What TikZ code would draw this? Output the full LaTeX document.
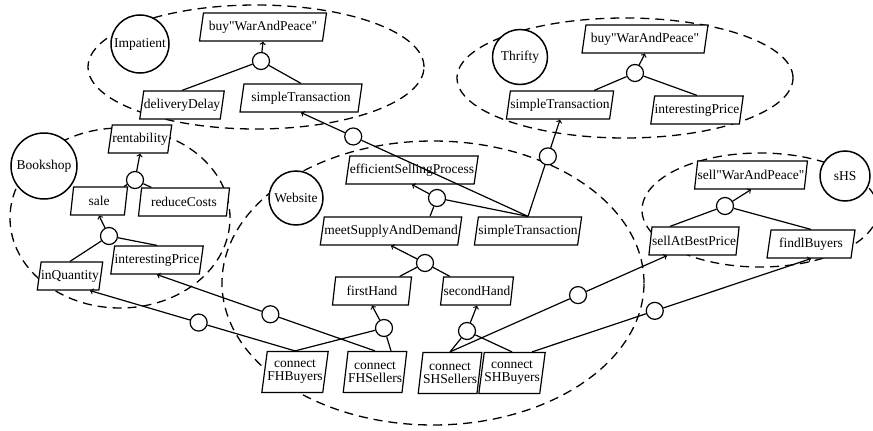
\documentclass[tikz,border=0pt]{standalone}
\usepackage{fontspec}
\setmainfont{Liberation Serif}[Ligatures=TeXOff]
\usetikzlibrary{shapes.geometric}

\begin{document}
\begin{tikzpicture}[x=1pt,y=-1pt,line width=1.2pt,font=\fontsize{13.5}{13}\selectfont,
  actor/.style={draw,circle,fill=white,line width=1.5pt,inner sep=0pt},
  goal/.style={draw,trapezium,trapezium left angle=72,trapezium right angle=108,trapezium stretches body,fill=white,inner xsep=0pt,inner ysep=0pt,minimum height=28pt},
  task/.style={goal,trapezium left angle=77,trapezium right angle=103,minimum height=41pt,align=center},
  dec/.style={draw,circle,fill=white,minimum size=17pt,inner sep=0pt},
  bound/.style={dash pattern=on 9pt off 6pt,line width=1.3pt}]
\useasboundingbox (0,0) rectangle (873,431);

\draw[bound] (256,67) ellipse [x radius=168pt, y radius=62pt];
\draw[bound] (625,78) ellipse [x radius=168pt, y radius=60pt];
\draw[bound] (120,218) ellipse [x radius=110pt, y radius=90pt];
\draw[bound] (433,283) ellipse [x radius=211pt, y radius=142pt];
\draw[bound] (760,210) ellipse [x radius=118pt, y radius=57pt];

\node[actor,minimum size=58pt] (impatient) at (140,44) {Impatient};
\node[actor,minimum size=55pt] (thrifty) at (520,57) {Thrifty};
\node[actor,minimum size=66pt] (bookshop) at (44,166) {Bookshop};
\node[actor,minimum size=54pt] (website) at (296,198) {Website};
\node[actor,minimum size=50pt] (shs) at (845,176) {sHS};

\node[goal,minimum width=127pt] (impBuy) at (263,27) {buy"WarAndPeace"};
\node[goal] (impDelay) at (182,105) {deliveryDelay};
\node[goal,minimum width=122pt] (impTrans) at (301,98) {simpleTransaction};
\node[dec] (impDec) at (261,61) {};

\node[goal,minimum width=126pt] (thrBuy) at (645,39) {buy"WarAndPeace"};
\node[goal] (thrTrans) at (560,105) {simpleTransaction};
\node[goal] (thrPrice) at (697,110) {interestingPrice};
\node[dec] (thrDec) at (635,73) {};

\node[goal] (bsRent) at (140,139) {rentability};
\node[goal,minimum width=57pt] (bsSale) at (99,201) {sale};
\node[goal,minimum width=91pt] (bsCosts) at (184,202) {reduceCosts};
\node[goal] (bsQuant) at (70,276) {inQuantity};
\node[goal] (bsPrice) at (157,260) {interestingPrice};
\node[dec] (bsDecA) at (135,180) {};
\node[dec] (bsDecB) at (109,236) {};

\node[goal] (wsEff) at (412,170) {efficientSellingProcess};
\node[goal] (wsMeet) at (391,231) {meetSupplyAndDemand};
\node[goal] (wsTrans) at (528,231) {simpleTransaction};
\node[goal,minimum width=79pt] (wsFirst) at (372,291) {firstHand};
\node[goal] (wsSecond) at (477,291) {secondHand};
\node[task] (wsFHB) at (295,372) {connect\\FHBuyers};
\node[task] (wsFHS) at (375,372) {connect\\FHSellers};
\node[task] (wsSHS) at (450,373) {connect\\SHSellers};
\node[task] (wsSHB) at (512,373) {connect\\SHBuyers};
\node[dec] (wsDecA) at (437,198) {};
\node[dec] (wsDecB) at (425,263) {};
\node[dec] (wsDecFH) at (384,328) {};
\node[dec] (wsDecSH) at (467,331) {};

\node[goal] (shsSell) at (751,175) {sell"WarAndPeace"};
\node[goal] (shsBest) at (694,241) {sellAtBestPrice};
\node[goal,minimum width=88pt] (shsFind) at (811,244) {findlBuyers};
\node[dec] (shsDec) at (725,206) {};

\draw (impDec) -- (impDelay.north);
\draw (impDec) -- (impTrans.north);
\draw[->] (impDec) -- (impBuy.south);
\draw (thrDec) -- (thrTrans);
\draw (thrDec) -- (thrPrice.north);
\draw[->] (thrDec) -- (thrBuy.south);
\draw (bsDecA) -- (bsSale);
\draw (bsDecA) -- (bsCosts);
\draw[->] (bsDecA) -- (bsRent.south);
\draw (bsDecB) -- (bsQuant.north);
\draw (bsDecB) -- (bsPrice.north);
\draw[->] (bsDecB) -- (bsSale.south);
\draw (wsDecA) -- ([xshift=39pt]wsMeet.north);
\draw (wsDecA) -- (wsTrans.north);
\draw[->] (wsDecA) -- (wsEff.south);
\draw (wsDecB) -- (wsFirst);
\draw (wsDecB) -- (wsSecond);
\draw[->] (wsDecB) -- (wsMeet.south);
\draw (wsDecFH) -- (wsFHB.north);
\draw (wsDecFH) -- ([xshift=16pt]wsFHS.north);
\draw[->] (wsDecFH) -- (wsFirst.south);
\draw (wsDecSH) -- (wsSHS.north);
\draw (wsDecSH) -- (wsSHB.north);
\draw[->] (wsDecSH) -- (wsSecond.south);
\draw (shsDec) -- ([xshift=-24pt]shsBest.north);
\draw (shsDec) -- (shsFind.north);
\draw[->] (shsDec) -- (shsSell.south);

\path (wsTrans.north) -- node[dec,pos=0.77] (depA) {} (impTrans.south);
\draw (wsTrans.north) -- (depA);
\draw[->] (depA) -- (impTrans.south);
\path (wsTrans.north) -- node[dec,pos=0.62] (depB) {} (thrTrans.south);
\draw (wsTrans.north) -- (depB);
\draw[->] (depB) -- (thrTrans.south);
\path (wsFHB.north) -- node[dec,pos=0.47] (depC) {} ([xshift=20pt]bsQuant.south);
\draw (wsFHB.north) -- (depC);
\draw[->] (depC) -- ([xshift=20pt]bsQuant.south);
\path (wsFHS.north) -- node[dec,pos=0.48] (depD) {} (bsPrice.south);
\draw (wsFHS.north) -- (depD);
\draw[->] (depD) -- (bsPrice.south);
\path (wsSHS.north) -- node[dec,pos=0.59] (depE) {} ([xshift=-27pt]shsBest.south);
\draw (wsSHS.north) -- (depE);
\draw[->] (depE) -- ([xshift=-27pt]shsBest.south);
\path ([xshift=20pt]wsSHB.north) -- node[dec,pos=0.44] (depF) {} (shsFind.south);
\draw ([xshift=20pt]wsSHB.north) -- (depF);
\draw[->] (depF) -- (shsFind.south);
\end{tikzpicture}
\end{document}
